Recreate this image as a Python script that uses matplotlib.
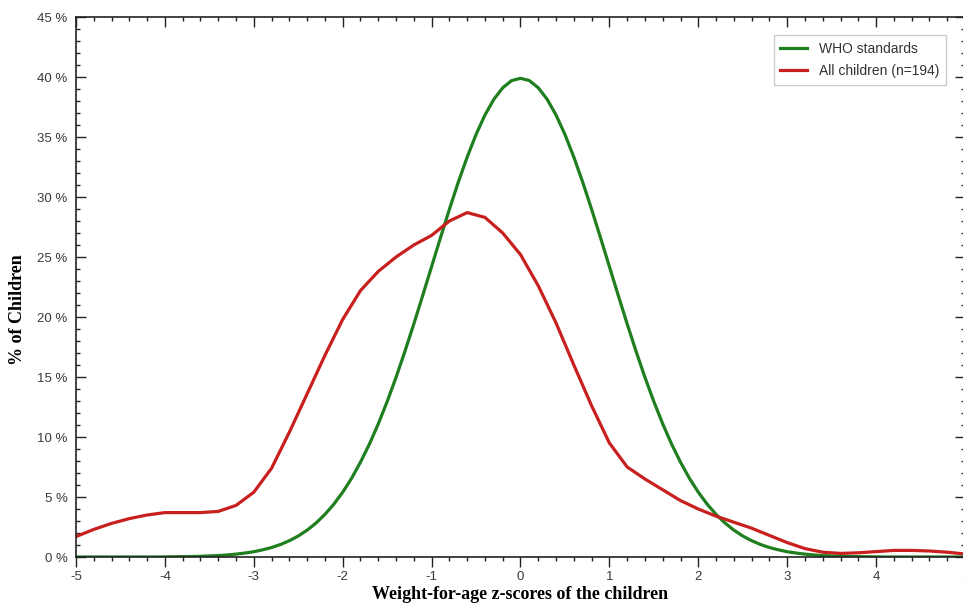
import matplotlib.pyplot as plt
import numpy as np

# WHO standards curve: z-score grid (steps of 0.1) and % of children
who_z = np.round(np.arange(-5, 5.0001, 0.1), 1)
who_right = [39.89, 39.70, 39.10, 38.14, 36.83, 35.21, 33.32, 31.23, 28.97, 26.61,
             24.20, 21.79, 19.42, 17.14, 14.97, 12.95, 11.09, 9.40, 7.90, 6.56,
             5.40, 4.40, 3.55, 2.83, 2.24, 1.75, 1.36, 1.04, 0.79, 0.60,
             0.44, 0.33, 0.24, 0.17, 0.12, 0.09, 0.06, 0.04, 0.03, 0.02,
             0.01, 0.0, 0.0, 0.0, 0.0, 0.0, 0.0, 0.0, 0.0, 0.0, 0.0]
who_pct = who_right[:0:-1] + who_right  # curve is symmetric around 0

# All children (n=194): z-score grid (steps of 0.2) and % of children
children_z = np.round(np.arange(-5, 5.0001, 0.2), 1)
children_pct = [1.7, 2.3, 2.8, 3.2, 3.5, 3.7, 3.7, 3.7, 3.8, 4.3,
                5.4, 7.4, 10.4, 13.6, 16.8, 19.8, 22.2, 23.8, 25.0, 26.0,
                26.8, 28.0, 28.7, 28.3, 27.0, 25.2, 22.6, 19.5, 16.0, 12.6,
                9.5, 7.5, 6.5, 5.6, 4.7, 4.0, 3.4, 2.9, 2.4, 1.8,
                1.2, 0.7, 0.4, 0.3, 0.35, 0.45, 0.55, 0.55, 0.5, 0.4,
                0.25]

fig = plt.figure(figsize=(9.63, 6.08), dpi=100)
ax = fig.add_axes([76 / 963, 51 / 608, (965 - 76) / 963, 540 / 608])

ax.plot(who_z, who_pct, color='#1f7f1f', lw=2.3, label='WHO standards',
        solid_joinstyle='round')
ax.plot(children_z, children_pct, color='#c8201e', lw=2.3, label='All children (n=194)',
        solid_joinstyle='round')

ax.set_xlim(-5, 5)
ax.set_ylim(0, 45)
ax.set_xticks(range(-5, 6))
ax.set_xticklabels([str(v) for v in range(-5, 6)])
ax.set_yticks(range(0, 46, 5))
ax.set_yticklabels([f'{v} %' for v in range(0, 46, 5)])
ax.set_xticks(np.arange(-5, 5.01, 0.2), minor=True)
ax.set_yticks(range(0, 46, 1), minor=True)

ax.tick_params(axis='both', which='both', labelsize=9.5, labelcolor='#3a3a3a',
               color='#222222', width=1, top=True, right=True)
ax.tick_params(axis='x', which='major', direction='out', length=7, pad=3)
ax.tick_params(axis='x', which='minor', direction='out', length=3)
ax.tick_params(axis='y', which='major', direction='in', length=7, pad=6)
ax.tick_params(axis='y', which='minor', direction='in', length=3)
# top ticks point inward
for t in ax.xaxis.get_major_ticks() + ax.xaxis.get_minor_ticks():
    t.tick2line.set_marker(3)
for t in ax.xaxis.get_major_ticks():
    t.tick2line.set_markersize(7)
for t in ax.xaxis.get_minor_ticks():
    t.tick2line.set_markersize(3)

for s in ax.spines.values():
    s.set_color('#222222')
    s.set_linewidth(1.2)

ax.set_xlabel('Weight-for-age z-scores of the children', fontfamily='Liberation Serif',
              fontweight='bold', fontsize=13)
ax.xaxis.set_label_coords(0.5, -29 / 540)
ax.set_ylabel('% of Children', fontfamily='Liberation Serif',
              fontweight='bold', fontsize=13)
ax.yaxis.set_label_coords(-50 / 889, (557 - 310) / 540)

leg = ax.legend(loc='upper right', fancybox=False, framealpha=1,
                edgecolor='#cccccc', fontsize=10, handlelength=1.9,
                handletextpad=0.85, borderpad=0.5, labelspacing=0.6,
                borderaxespad=0)
leg.set_bbox_to_anchor((946 / 963, (608 - 35) / 608), transform=fig.transFigure)
for txt in leg.get_texts():
    txt.set_color('#333333')
    txt.set_fontfamily('Liberation Sans')
for lbl in ax.get_xticklabels() + ax.get_yticklabels():
    lbl.set_fontfamily('Liberation Sans')

fig.savefig('out.png', dpi=100)
